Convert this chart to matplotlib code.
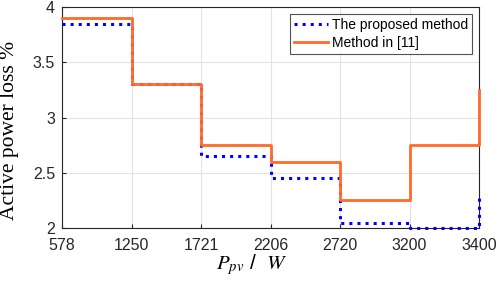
import matplotlib
matplotlib.use("Agg")
from matplotlib import pyplot as plt

# DATA
pv_labels = ["578", "1250", "1721", "2206", "2720", "3200", "3400"]
proposed = [3.85, 3.3, 2.65, 2.45, 2.05, 2.0, 2.3]
method_11 = [3.9, 3.3, 2.75, 2.6, 2.25, 2.75, 3.25]
y_ticks = [2, 2.5, 3, 3.5, 4]
y_tick_labels = ["2", "2.5", "3", "3.5", "4"]

plt.rcParams['font.family'] = ['Liberation Sans', 'DejaVu Sans']
plt.rcParams['mathtext.fontset'] = 'stix'

fig = plt.figure(figsize=(4.98, 2.83), dpi=100)
ax = fig.add_axes([0.1245, 0.194, 0.8375, 0.781])

xs = list(range(len(pv_labels)))
ax.plot(xs, proposed, drawstyle='steps-post', color='#0000FF', linestyle=':',
        linewidth=2.2, label='The proposed method', clip_on=False, zorder=3)
ax.plot(xs, method_11, drawstyle='steps-post', color='#FF6A2A', linestyle='-',
        linewidth=2.0, label='Method in [11]', clip_on=False, zorder=4)

ax.set_xlim(0, len(pv_labels) - 1)
ax.set_ylim(2, 4)
ax.set_xticks(xs)
ax.set_xticklabels(pv_labels)
ax.set_yticks(y_ticks)
ax.set_yticklabels(y_tick_labels)
ax.tick_params(direction='in', length=3, labelsize=11.5, colors='#262626')
ax.tick_params(axis='x', pad=7)
ax.tick_params(axis='y', pad=5)
ax.grid(True, color='#e3e3e3', linewidth=0.8)
ax.set_axisbelow(True)
for s in ax.spines.values():
    s.set_color('#262626')
    s.set_linewidth(0.8)

ax.set_ylabel('Active power loss %', family='Liberation Serif', fontsize=15.5,
              va='center')
ax.yaxis.set_label_coords(-0.125, 0.44)
ax.set_xlabel(r'$P_{pv}$ /  $W$', fontsize=15, va='center')
ax.xaxis.set_label_coords(0.456, -0.167)

leg = ax.legend(loc='upper right', fontsize=10, frameon=True, fancybox=False,
                edgecolor='#262626', borderaxespad=0.5, handlelength=2.4,
                borderpad=0.3, labelspacing=0.25, handletextpad=0.3)
leg.get_frame().set_linewidth(0.8)

fig.savefig('out.png', dpi=100)
